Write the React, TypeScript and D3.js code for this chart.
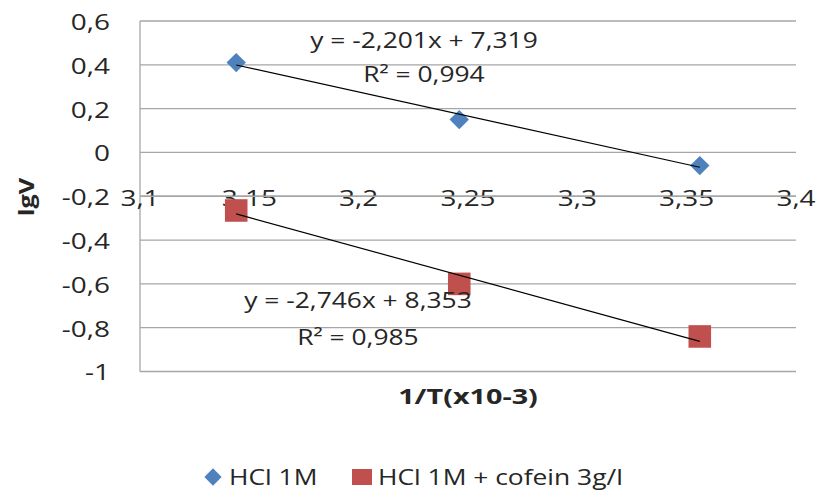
import * as d3 from 'd3';
import type { ReactNode } from 'react';

// 1/T (x10-3) values and lgV for both series
const xValues = [3.144, 3.246, 3.356];
const hclValues = [0.41, 0.15, -0.06];
const cofeinValues = [-0.265, -0.6, -0.84];

const seriesNames = ['HCl 1M', 'HCl 1M + cofein 3g/l'];
const seriesColors = ['#4F81BD', '#C0504D'];

const xTicks = [3.1, 3.15, 3.2, 3.25, 3.3, 3.35, 3.4];
const yTicks = [0.6, 0.4, 0.2, 0, -0.2, -0.4, -0.6, -0.8, -1];

const trendSlopes = [-2.201, -2.746];
const trendIntercepts = [7.319, 8.353];
const trendR2 = [0.994, 0.985];

const W = 817;
const H = 491;
const FONT = '"Open Sans", sans-serif';
const FS = 22;
const SX = 1.2; // the original text is a bit wider than Open Sans

const comma = (s: string) => s.replace('.', ',');
const fmt = (v: number) => comma(String(+v.toFixed(2)));

// text placed at x,y (vertical centre), stretched horizontally
function Txt({ x, y, anchor = 'start', sx = SX, size = FS, bold = false, rotate = 0, children }: {
  x: number; y: number; anchor?: string; sx?: number; size?: number; bold?: boolean;
  rotate?: number; children: ReactNode;
}) {
  return (
    <text transform={`translate(${x},${y}) rotate(${rotate}) scale(${sx},1)`} dy="0.36em"
      textAnchor={anchor} fontSize={size} fontWeight={bold ? 'bold' : 'normal'} fill="#262626">
      {children}
    </text>
  );
}

export default function App() {
  const x = d3.scaleLinear().domain([3.1, 3.4]).range([140, 796]);
  const y = d3.scaleLinear().domain([-1, 0.6]).range([371.5, 21]);
  const diamond = d3.symbol().type(d3.symbolDiamond2).size(240)();
  const square = d3.symbol().type(d3.symbolSquare).size(510)();
  const series = [hclValues, cofeinValues];

  const trend = (i: number) => {
    const x0 = d3.min(xValues) as number;
    const x1 = d3.max(xValues) as number;
    return d3.line<number>()
      .x((d) => x(d))
      .y((d) => y(trendSlopes[i] * d + trendIntercepts[i]))([x0, x1]);
  };

  const eqLabels = [
    { cx: 424, ey: 40, ry: 74 },
    { cx: 358, ey: 300, ry: 337 },
  ];

  return (
    <svg width={W} height={H} style={{ position: 'absolute', left: 0, top: 0, background: '#fff' }}
      fontFamily={FONT}>
      {/* gridlines */}
      {yTicks.map((t) => (
        <line key={t} x1={140} x2={796} y1={y(t)} y2={y(t)} stroke="#A6A6A6" strokeWidth={1.3} />
      ))}
      <line x1={140} x2={140} y1={y(0.6)} y2={y(-1)} stroke="#A6A6A6" strokeWidth={1.3} />
      {/* y tick labels */}
      {yTicks.map((t) => (
        <Txt key={'yl' + t} x={110} y={y(t) + 1} anchor="end" sx={1.27}>{fmt(t)}</Txt>
      ))}
      {/* x tick labels, centred on the axis line that crosses at -0.2 */}
      {xTicks.map((t) => (
        <Txt key={'xl' + t} x={x(t)} y={y(-0.2) + 2} anchor="middle" sx={1.27}>{fmt(t)}</Txt>
      ))}
      <line x1={140} x2={796} y1={y(-0.2)} y2={y(-0.2)} stroke="#A6A6A6" strokeWidth={1.3} />
      {/* markers */}
      {series.map((vals, i) =>
        vals.map((v, j) => (
          <path key={i + '-' + j} d={(i === 0 ? diamond : square) as string}
            transform={`translate(${x(xValues[j])},${y(v)})`} fill={seriesColors[i]} />
        ))
      )}
      {/* trendlines */}
      {[0, 1].map((i) => (
        <path key={'t' + i} d={trend(i) as string} stroke="#000" strokeWidth={1.2} fill="none" />
      ))}
      {/* trendline equations */}
      {eqLabels.map((l, i) => (
        <g key={'eq' + i}>
          <Txt x={l.cx} y={l.ey} anchor="middle">
            {`y = ${comma(trendSlopes[i].toFixed(3))}x + ${comma(trendIntercepts[i].toFixed(3))}`}
          </Txt>
          <Txt x={l.cx} y={l.ry} anchor="middle">{`R² = ${comma(trendR2[i].toFixed(3))}`}</Txt>
        </g>
      ))}
      {/* axis titles */}
      <Txt x={26} y={197} rotate={-90} anchor="middle" bold sx={1.2} size={21}>lgV</Txt>
      <Txt x={468} y={396} anchor="middle" bold sx={1.37} size={21}>1/T(x10-3)</Txt>
      {/* legend */}
      <path d={d3.symbol().type(d3.symbolDiamond2).size(190)() as string}
        transform="translate(213,477)" fill={seriesColors[0]} />
      <Txt x={229} y={477} sx={1.2} size={22}>{seriesNames[0]}</Txt>
      <rect x={352} y={469} width={20} height={16} fill={seriesColors[1]} />
      <Txt x={378} y={477} sx={1.2} size={22}>{seriesNames[1]}</Txt>
    </svg>
  );
}
